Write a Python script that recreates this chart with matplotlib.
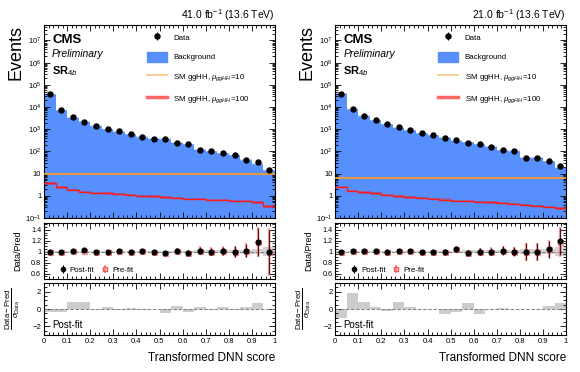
import matplotlib
matplotlib.use("Agg")
import matplotlib.pyplot as plt
import numpy as np
from matplotlib.ticker import MultipleLocator, LogLocator, FixedLocator, NullFormatter, FuncFormatter

plt.rcParams["font.family"] = ["Liberation Sans", "DejaVu Sans"]
plt.rcParams["mathtext.fontset"] = "custom"
plt.rcParams["mathtext.rm"] = "Liberation Sans"
plt.rcParams["mathtext.it"] = "Liberation Sans:italic"
plt.rcParams["mathtext.bf"] = "Liberation Sans:bold"

# binning: 20 bins of the transformed DNN score
edges = np.linspace(0, 1, 21)

# ---- left panel (41.0 fb-1) ----
lumi_l = "41.0 fb$^{-1}$ (13.6 TeV)"
data_l = [38000, 7100, 3400, 2200, 1400, 1000, 790, 590, 450, 380,
          355, 250, 210, 120, 100, 83, 66, 42, 32, 14]
bkg_l = [38000, 7100, 3350, 2150, 1400, 1000, 780, 590, 445, 380,
         362, 245, 214, 118, 100, 82, 66, 41, 27, 14]
sig10_l = [9.3] * 20
sig100_l = [3.6, 2.4, 1.87, 1.5, 1.37, 1.27, 1.19, 1.07, 1.0, 0.93,
            0.84, 0.78, 0.73, 0.70, 0.66, 0.64, 0.60, 0.57, 0.50, 0.33]
ratio_post_l = [1.0, 1.0, 1.02, 1.025, 1.0, 1.0, 1.01, 1.0, 1.01, 1.0,
                0.98, 1.02, 0.98, 1.02, 1.0, 1.01, 1.0, 1.02, 1.175, 1.0]
ratio_pre_l = [1.0, 1.0, 1.02, 1.02, 1.0, 1.0, 1.01, 1.0, 1.01, 1.0,
               0.98, 1.02, 0.98, 1.02, 1.0, 1.01, 1.0, 1.02, 1.17, 1.0]
ratio_err_l = [0.01, 0.01, 0.015, 0.02, 0.02, 0.02, 0.025, 0.03, 0.03, 0.03,
               0.035, 0.04, 0.05, 0.07, 0.07, 0.08, 0.1, 0.12, 0.25, 0.4]
band_l = [0.01, 0.01, 0.01, 0.01, 0.01, 0.012, 0.012, 0.014, 0.015, 0.015,
          0.016, 0.018, 0.02, 0.022, 0.024, 0.026, 0.03, 0.035, 0.05, 0.08]
pull_l = [-0.3, -0.3, 0.8, 0.8, -0.1, 0.2, -0.05, 0.1, -0.1, 0.05,
          -0.4, 0.35, -0.3, 0.25, -0.05, 0.2, -0.05, 0.2, 0.7, 0.0]

# ---- right panel (21.0 fb-1) ----
lumi_r = "21.0 fb$^{-1}$ (13.6 TeV)"
data_r = [40000, 8000, 4000, 2500, 1700, 1200, 900, 660, 540, 420,
          320, 250, 210, 165, 117, 105, 52, 52, 37, 22]
bkg_r = [40000, 7850, 3920, 2480, 1700, 1180, 890, 660, 545, 420,
         308, 255, 210, 165, 115, 105, 52, 52, 36, 18.5]
sig10_r = [6.6] * 20
sig100_r = [2.55, 1.68, 1.41, 1.27, 1.1, 0.93, 0.84, 0.78, 0.73, 0.68,
            0.60, 0.57, 0.54, 0.50, 0.47, 0.44, 0.39, 0.35, 0.32, 0.27]
ratio_post_r = [1.0, 1.02, 1.02, 1.01, 1.0, 1.02, 1.01, 1.0, 0.99, 1.0,
                1.04, 0.98, 1.0, 1.0, 1.02, 1.0, 1.0, 1.0, 1.04, 1.19]
ratio_pre_r = [1.0, 1.02, 1.02, 1.01, 1.0, 1.02, 1.01, 1.0, 0.99, 1.0,
               1.04, 0.98, 1.0, 1.0, 1.02, 1.0, 1.0, 1.0, 1.04, 1.18]
ratio_err_r = [0.01, 0.015, 0.02, 0.02, 0.025, 0.03, 0.03, 0.035, 0.04, 0.04,
               0.05, 0.05, 0.06, 0.07, 0.08, 0.08, 0.15, 0.15, 0.15, 0.25]
band_r = [0.01, 0.01, 0.01, 0.012, 0.012, 0.014, 0.015, 0.016, 0.018, 0.02,
          0.02, 0.022, 0.024, 0.026, 0.03, 0.03, 0.04, 0.04, 0.05, 0.08]
pull_r = [-1.0, 1.9, 0.85, 0.3, -0.2, 0.85, 0.3, 0.05, 0.0, -0.6,
          -0.3, 0.7, -0.6, 0.0, 0.15, 0.0, 0.0, 0.0, 0.35, 0.7]

xticks = [0, 0.1, 0.2, 0.3, 0.4, 0.5, 0.6, 0.7, 0.8, 0.9, 1]
xticklabels = ["0", "0.1", "0.2", "0.3", "0.4", "0.5", "0.6", "0.7", "0.8", "0.9", "1"]

BLUE = "#5790fc"
ORANGE = "#f89c20"
RED = "#ff1a1a"
FS_TICK = 5.5
YLAB_X = -0.085  # right edge of the y labels (axes fraction)


def log_fmt(v, pos):
    if v == 1:
        return "1"
    if v == 10:
        return "10"
    e = int(round(np.log10(v)))
    return r"$10^{%d}$" % e


def style_axis(ax):
    ax.tick_params(which="both", direction="in", top=True, right=True,
                   labelsize=FS_TICK, width=0.6, pad=2)
    ax.tick_params(which="major", length=4)
    ax.tick_params(which="minor", length=2)
    for s in ax.spines.values():
        s.set_linewidth(0.8)
    ax.set_xlim(0, 1)
    ax.xaxis.set_major_locator(FixedLocator(xticks))
    ax.xaxis.set_minor_locator(MultipleLocator(0.02))


def steps(vals):
    return np.append(vals, vals[-1])


def draw_panel(fig, x0, lumi, data, bkg, sig10, sig100, r_post, r_pre, r_err,
               band, pull):
    w = 0.398
    centers = 0.5 * (edges[1:] + edges[:-1])
    data = np.array(data, float)
    bkg = np.array(bkg, float)

    # main panel
    ax = fig.add_axes([x0, 0.414, w, 0.519])
    ax.stairs(bkg, edges, baseline=0.1, fill=True, color=BLUE, zorder=1)
    ax.stairs(bkg * 1.06, edges, baseline=bkg * 0.94, fill=True,
              color="#9dbffd", alpha=0.6, zorder=1.1)
    ax.fill_between(edges, steps(np.array(sig10)) * 0.96,
                    steps(np.array(sig10)) * 1.04, step="post",
                    color="#c9a27a", alpha=0.9, lw=0, zorder=2)
    ax.step(edges, steps(sig10), where="post", color=ORANGE, lw=1.2, zorder=3)
    ax.fill_between(edges, steps(np.array(sig100)) * 0.88,
                    steps(np.array(sig100)) * 1.12, step="post",
                    color="#c0406a", alpha=0.55, lw=0, zorder=2)
    ax.step(edges, steps(sig100), where="post", color=RED, lw=1.0, zorder=3)
    eb = ax.errorbar(centers, data, yerr=np.sqrt(data), fmt="o", color="black",
                     ms=3.6, elinewidth=0.8, capsize=0, zorder=5)
    ax.set_yscale("log")
    ax.set_ylim(0.1, 5e7)
    style_axis(ax)
    ax.yaxis.set_major_locator(LogLocator(base=10, numticks=20))
    ax.yaxis.set_minor_locator(LogLocator(base=10, subs=np.arange(2, 10) * 0.1,
                                          numticks=20))
    ax.yaxis.set_major_formatter(FuncFormatter(log_fmt))
    ax.yaxis.set_minor_formatter(NullFormatter())
    ax.set_xticklabels([])
    ax.set_ylabel("Events", fontsize=13, loc="top")
    ax.yaxis.set_label_coords(YLAB_X, 1.0)
    ax.text(1.0, 1.012, lumi, transform=ax.transAxes, ha="right", va="bottom",
            fontsize=7.5)
    ax.text(0.035, 0.955, "CMS", transform=ax.transAxes, ha="left", va="top",
            fontsize=9.5, fontweight="bold")
    ax.text(0.035, 0.875, "Preliminary", transform=ax.transAxes, ha="left",
            va="top", fontsize=7.5, style="italic")
    ax.text(0.035, 0.795, r"$\mathbf{SR}_{4b}$", transform=ax.transAxes,
            ha="left", va="top", fontsize=8)

    h_bkg = plt.Rectangle((0, 0), 1, 1, color=BLUE)
    h_s10 = plt.Line2D([], [], color="#fbc88a", lw=1.3)
    h_s100 = plt.Line2D([], [], color="#ff6666", lw=2.5)
    ax.legend([eb, h_bkg, h_s10, h_s100],
              ["Data", "Background",
               r"SM ggHH, $\mu_{ggHH}$=10",
               r"SM ggHH, $\mu_{ggHH}$=100"],
              loc="upper left", bbox_to_anchor=(0.43, 0.98),
              frameon=False, fontsize=5.7, handlelength=2.6,
              handleheight=1.6, labelspacing=1.2, borderaxespad=0)

    # ratio panel
    ar = fig.add_axes([x0, 0.25, w, 0.15])
    ar.stairs(1 + np.array(band), edges, baseline=1 - np.array(band),
              fill=True, color="#c8c8c8", alpha=0.8, zorder=1)
    ar.axhline(1, color="gray", ls="--", lw=0.7, zorder=2)
    pre_err = np.array(r_err) * 1.1
    ar.errorbar(centers, r_pre, yerr=pre_err, fmt="s", mfc="none",
                mec="#ff5050", ecolor="#ff8080", ms=3.6, mew=0.8,
                elinewidth=1.6, capsize=0, alpha=0.7, zorder=3)
    ar.errorbar(centers, r_post, yerr=r_err, fmt="o", color="black",
                ecolor="#5a1010", ms=3.4, elinewidth=0.9, capsize=0, zorder=4)
    ar.set_ylim(0.5, 1.52)
    style_axis(ar)
    ar.yaxis.set_major_locator(FixedLocator([0.6, 0.8, 1.0, 1.2, 1.4]))
    ar.yaxis.set_major_formatter(FuncFormatter(lambda v, p: "1" if abs(v - 1) < 1e-6 else "%.1f" % v))
    ar.yaxis.set_minor_locator(MultipleLocator(0.05))
    ar.tick_params(axis="y", labelsize=5.2)
    ar.set_xticklabels([])
    ar.set_ylabel("Data/Pred", fontsize=6.5)
    ar.yaxis.set_label_coords(YLAB_X - 0.01, 0.5)
    hp = ar.errorbar([], [], yerr=[], fmt="o", color="black", ms=3, elinewidth=0.8)
    hq = ar.errorbar([], [], yerr=[], fmt="s", mfc="none", mec="#ff5050",
                     ecolor="#ff8080", ms=3, elinewidth=1.2)
    ar.legend([hp, hq], ["Post-fit", "Pre-fit"], loc="lower left",
              bbox_to_anchor=(0.05, 0.04), ncol=2, frameon=False,
              fontsize=5.7, handlelength=1.0, handletextpad=0.4,
              columnspacing=0.8, borderaxespad=0)

    # pull panel
    ap = fig.add_axes([x0, 0.099, w, 0.14])
    ap.stairs(pull, edges, baseline=0, fill=True, color="#cccccc", zorder=1)
    ap.axhline(0, color="gray", ls="--", lw=0.7, zorder=2)
    ap.set_ylim(-3, 3)
    style_axis(ap)
    ap.yaxis.set_major_locator(FixedLocator([-2, 0, 2]))
    ap.yaxis.set_minor_locator(MultipleLocator(0.5))
    ap.set_xticklabels(xticklabels)
    ap.set_ylabel(r"$\frac{\mathrm{Data-Pred}}{\sigma_{\mathrm{Data}}}$",
                  fontsize=8)
    ap.yaxis.set_label_coords(YLAB_X - 0.01, 0.5)
    ap.text(0.035, 0.2, "Post-fit", transform=ap.transAxes, ha="left",
            va="center", fontsize=7)
    ap.set_xlabel("Transformed DNN score", fontsize=8.5, loc="right",
                  labelpad=5)


fig = plt.figure(figsize=(5.8, 3.72), dpi=100)
draw_panel(fig, 0.076, lumi_l, data_l, bkg_l, sig10_l, sig100_l,
           ratio_post_l, ratio_pre_l, ratio_err_l, band_l, pull_l)
draw_panel(fig, 0.578, lumi_r, data_r, bkg_r, sig10_r, sig100_r,
           ratio_post_r, ratio_pre_r, ratio_err_r, band_r, pull_r)
fig.savefig("out.png", dpi=100)
